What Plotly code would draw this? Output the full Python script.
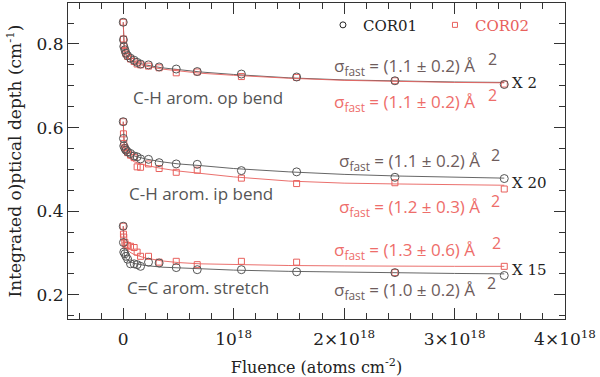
import plotly.graph_objects as go

# ---- data (fluence in units of 1e18 atoms cm^-2) ----
fluence = [0, 0.002, 0.005, 0.015, 0.025, 0.04, 0.066, 0.099, 0.126, 0.157,
           0.229, 0.325, 0.48, 0.67, 1.07, 1.57, 2.46, 3.45]

op_cor01 = [0.852, 0.810, 0.794, 0.786, 0.778, 0.772, 0.766, 0.761, 0.756, 0.752,
            0.750, 0.745, 0.740, 0.734, 0.728, 0.721, 0.712, 0.703]
op_cor02 = [0.852, 0.812, 0.796, 0.784, 0.776, 0.770, 0.764, 0.758, 0.752, 0.750,
            0.747, 0.743, 0.731, 0.733, 0.722, 0.720, 0.712, 0.704]
ip_cor01 = [0.614, 0.574, 0.556, 0.550, 0.546, 0.542, 0.538, 0.532, 0.530, 0.525,
            0.524, 0.516, 0.513, 0.512, 0.497, 0.494, 0.481, 0.478]
ip_cor02 = [0.614, 0.585, 0.562, 0.552, 0.546, 0.540, 0.534, 0.528, 0.506, 0.505,
            0.513, 0.502, 0.493, 0.498, 0.479, 0.466, 0.468, 0.453]
cc_cor01 = [0.364, 0.325, 0.302, 0.298, 0.292, 0.285, 0.274, 0.274, 0.272, 0.268,
            0.278, 0.276, 0.265, 0.260, 0.260, 0.255, 0.253, 0.246]
cc_cor02 = [0.364, 0.345, 0.338, 0.325, 0.319, 0.318, 0.316, 0.313, 0.302, 0.292,
            0.292, 0.278, 0.280, 0.272, 0.280, 0.278, 0.253, 0.268]

fit_fluence = [0, 0.003, 0.01, 0.03, 0.06, 0.1, 0.2, 0.35, 0.5, 0.7, 1.0, 1.5,
               2.0, 2.5, 3.0, 3.45]
fit_op_cor01 = [0.852, 0.800, 0.785, 0.772, 0.764, 0.758, 0.750, 0.743, 0.738,
                0.733, 0.727, 0.719, 0.714, 0.711, 0.709, 0.708]
fit_op_cor02 = [0.852, 0.800, 0.784, 0.770, 0.762, 0.756, 0.747, 0.740, 0.735,
                0.730, 0.725, 0.718, 0.713, 0.710, 0.708, 0.707]
fit_ip_cor01 = [0.614, 0.570, 0.555, 0.545, 0.538, 0.532, 0.525, 0.518, 0.513,
                0.509, 0.502, 0.494, 0.488, 0.484, 0.481, 0.479]
fit_ip_cor02 = [0.614, 0.560, 0.545, 0.532, 0.525, 0.518, 0.510, 0.502, 0.496,
                0.490, 0.482, 0.472, 0.467, 0.465, 0.463, 0.462]
fit_cc_cor01 = [0.364, 0.310, 0.295, 0.285, 0.279, 0.275, 0.270, 0.266, 0.264,
                0.262, 0.259, 0.256, 0.254, 0.252, 0.251, 0.250]
fit_cc_cor02 = [0.364, 0.340, 0.325, 0.310, 0.302, 0.296, 0.288, 0.281, 0.277,
                0.274, 0.272, 0.270, 0.269, 0.268, 0.268, 0.268]

x_tickvals = [0, 1, 2, 3, 4]
x_ticktext = ["0", "10<sup>18</sup>", "2×10<sup>18</sup>", "3×10<sup>18</sup>",
              "4×10<sup>18</sup>"]

BLACK = "#555555"
RED = "#e8605c"
SIG_BLACK = "#6e5c5c"
SIG_RED = "#ee6d6a"
SERIF = "DejaVu Serif"
SANS = "Open Sans"

fig = go.Figure()

fits = [(fit_op_cor01, BLACK), (fit_op_cor02, RED), (fit_ip_cor01, BLACK),
        (fit_ip_cor02, RED), (fit_cc_cor01, BLACK), (fit_cc_cor02, RED)]
for ys, c in fits:
    fig.add_trace(go.Scatter(x=fit_fluence, y=ys, mode="lines",
                             line=dict(color=c, width=0.9), showlegend=False,
                             hoverinfo="skip"))

series = [(op_cor02, RED, "square-open", 6), (ip_cor02, RED, "square-open", 6),
          (cc_cor02, RED, "square-open", 6),
          (op_cor01, BLACK, "circle-open", 8), (ip_cor01, BLACK, "circle-open", 8),
          (cc_cor01, BLACK, "circle-open", 8)]
for ys, c, sym, sz in series:
    fig.add_trace(go.Scatter(x=fluence, y=ys, mode="markers",
                             marker=dict(symbol=sym, size=sz, color=c,
                                         line=dict(color=c, width=1)),
                             showlegend=False))

# legend entries
fig.add_trace(go.Scatter(x=[None], y=[None], mode="markers", name="COR01",
                         marker=dict(symbol="circle-open", size=6, color="#222",
                                     line=dict(width=1))))
fig.add_trace(go.Scatter(x=[None], y=[None], mode="markers",
                         name="<span style='color:#e8605c'>COR02</span>",
                         marker=dict(symbol="square-open", size=5, color=RED,
                                     line=dict(width=1))))

def ann(x, y, text, color, size=17, font=SANS, xanchor="center"):
    fig.add_annotation(x=x, y=y, text=text, showarrow=False, xref="x", yref="y",
                       font=dict(family=font, size=size, color=color),
                       xanchor=xanchor, yanchor="middle")

sig = "σ<sub>fast</sub> = ({}) Å"
ann(2.55, 0.7455, sig.format("1.1 ± 0.2"), SIG_BLACK)
ann(3.34, 0.765, "2", SIG_BLACK, size=16)
ann(2.55, 0.661, sig.format("1.1 ± 0.2"), SIG_RED)
ann(3.34, 0.678, "2", SIG_RED, size=16)
ann(2.59, 0.518, sig.format("1.1 ± 0.2"), SIG_BLACK)
ann(3.375, 0.534, "2", SIG_BLACK, size=16)
ann(2.59, 0.409, sig.format("1.2 ± 0.3"), SIG_RED)
ann(3.375, 0.4245, "2", SIG_RED, size=16)
ann(2.55, 0.306, sig.format("1.3 ± 0.6"), SIG_RED)
ann(3.38, 0.323, "2", SIG_RED, size=16)
ann(2.55, 0.210, sig.format("1.0 ± 0.2"), SIG_BLACK)
ann(3.33, 0.227, "2", SIG_BLACK, size=16)

ann(3.5, 0.707, "X 2", "#222", size=15, font=SERIF, xanchor="left")
ann(3.5, 0.467, "X 20", "#222", size=15, font=SERIF, xanchor="left")
ann(3.5, 0.260, "X 15", "#222", size=15, font=SERIF, xanchor="left")

ann(0.77, 0.673, "C-H arom. op bend", BLACK, size=17)
ann(0.707, 0.443, "C-H arom. ip bend", BLACK, size=17)
ann(0.676, 0.217, "C=C arom. stretch", BLACK, size=17)

axis_common = dict(showline=True, linecolor="#333", linewidth=1, mirror="ticks",
                   ticks="inside", tickcolor="#333", showgrid=False, zeroline=False,
                   tickfont=dict(family=SERIF, size=17, color="#222"))

fig.update_xaxes(range=[-0.5, 4.0], tickmode="array", tickvals=x_tickvals,
                 ticktext=x_ticktext, ticklen=11, ticklabelstandoff=5,
                 minor=dict(tickmode="linear", tick0=0, dtick=0.2, ticklen=6,
                            ticks="inside", tickcolor="#333"),
                 title=dict(text="Fluence (atoms cm<sup>-2</sup>)", standoff=16,
                            font=dict(family=SERIF, size=16, color="#222")),
                 **axis_common)
fig.update_yaxes(range=[0.142, 0.898], tickmode="linear", tick0=0, dtick=0.2,
                 ticklen=11, tickformat=".1f",
                 minor=dict(tickmode="linear", tick0=0, dtick=0.05, ticklen=6,
                            ticks="inside", tickcolor="#333"),
                 title=dict(text="Integrated o)ptical depth (cm<sup>-1</sup>)",
                            standoff=10,
                            font=dict(family=SERIF, size=17, color="#222")),
                 **axis_common)

fig.update_layout(width=600, height=377,
                  margin=dict(l=68, r=35, t=3, b=58, autoexpand=False),
                  plot_bgcolor="white", paper_bgcolor="white",
                  showlegend=True,
                  legend=dict(orientation="h", x=0.513, y=0.93, xanchor="left",
                              yanchor="middle", entrywidth=67,
                              entrywidthmode="pixels", bgcolor="rgba(0,0,0,0)",
                              font=dict(family=SERIF, size=15, color="#222")))

fig.write_html("out.html", config={"displayModeBar": False},
               post_script="document.body.style.margin='0';"
                           "document.body.style.overflow='hidden';")
